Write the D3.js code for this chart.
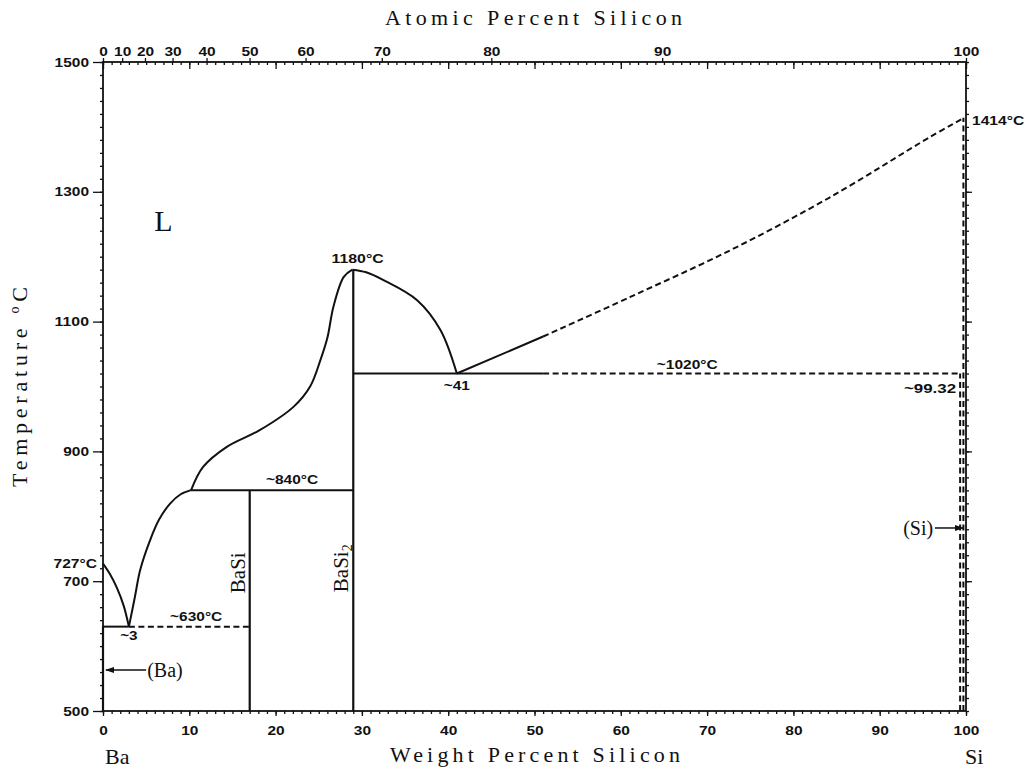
<!DOCTYPE html>
<html>
<head>
<meta charset="utf-8">
<script src="https://cdn.jsdelivr.net/npm/d3@7"></script>
<style>
  html, body { margin: 0; padding: 0; background: #fff; }
  svg { display: block; }
</style>
</head>
<body>
<svg id="chart" width="1026" height="772"></svg>
<script>
// ---------- data (weight percent Si, temperature °C) ----------
const baLiquidus      = [[0,727],[0.8,711],[1.6,690],[2.4,662],[3,630]];
const basiLiquidus    = [[3,630],[3.7,676],[4.3,717],[5.45,763],[6.5,795],[7.8,820],[9,834],[10.1,840]];
const basi2LeftLiq    = [[10.2,840],[11.6,876],[14.35,907],[18.2,933],[22.1,969],[24.0,1000],[25.2,1041],[26.0,1075],[26.7,1123],[27.9,1169],[28.9,1180]];
const basi2RightLiq   = [[28.9,1180],[30.5,1176],[32.5,1164],[36.4,1133],[39.1,1087],[41,1020]];
const siLiquidSolid   = [[41,1020],[51,1077]];
const siLiquidDashed  = [[51,1077],[61.1,1138],[72.7,1210],[84.3,1292],[95.9,1385],[99.8,1414]];

// horizontal invariant lines: [x1, x2, T, dashed]
const isotherms = [[0,3,630,false],[3,17,630,true],[10.1,29,840,false],[29,51,1020,false],[51,99.32,1020,true]];
// vertical lines: [x, T1, T2, dashed]
const verticals = [[17,500,840,false],[29,500,1180,false],[99.32,500,1020,true],[99.7,500,1414,true],[0,500,630,false]];

const wtTicks    = [0,10,20,30,40,50,60,70,80,90,100];
const atTicks    = [0,10,20,30,40,50,60,70,80,90,100];
const tempTicks  = [500,700,900,1100,1300,1500];

// annotations: [text, wt, T, anchor]
const annotations = [
  ["727°C", 0, 727, "end"],
  ["~3", 3, 630, "middle"],
  ["~630°C", 10.8, 630, "middle"],
  ["~840°C", 21.9, 840, "middle"],
  ["1180°C", 29.5, 1180, "middle"],
  ["~41", 41, 1020, "middle"],
  ["~1020°C", 67.7, 1020, "middle"],
  ["~99.32", 99.32, 1020, "end"],
  ["1414°C", 100, 1414, "start"]
];

// ---------- setup ----------
const svg = d3.select("#chart");
svg.append("rect").attr("width",1026).attr("height",772).attr("fill","#fff");

const x = d3.scaleLinear().domain([0,100]).range([103,966]);
const y = d3.scaleLinear().domain([500,1500]).range([711,62]);

const MBa = 137.33, MSi = 28.086;
const atToWt = a => 100 * a * MSi / (a * MSi + (100 - a) * MBa);

const ink = "#111";
const boldFont = "'Liberation Sans', Arial, sans-serif";
const serifFont = "'Liberation Serif', 'DejaVu Serif', serif";

// ---------- axes ----------
svg.append("g").attr("transform",`translate(0,${y(500)})`)
  .call(d3.axisBottom(x).tickValues(d3.range(0,101,1)).tickSize(3).tickFormat(""));
svg.append("g").attr("transform",`translate(0,${y(500)})`)
  .call(d3.axisBottom(x).tickValues(wtTicks).tickSizeInner(5).tickSizeOuter(0).tickPadding(10).tickFormat(d3.format("d")));
svg.append("g").attr("transform",`translate(0,${y(1500)})`)
  .call(d3.axisBottom(x).tickValues(d3.range(0,101,1)).tickSize(3).tickFormat(""));
svg.append("g").attr("transform",`translate(0,${y(1500)})`)
  .call(d3.axisBottom(x).tickValues(wtTicks).tickSize(7).tickFormat(""));
svg.append("g").attr("transform",`translate(0,${y(1500)})`)
  .call(d3.axisTop(d3.scaleIdentity().domain([0,1026]))
    .tickValues(atTicks.map(a => x(atToWt(a))))
    .tickFormat((d,i) => atTicks[i]).tickSize(4).tickPadding(2));
svg.append("g").attr("transform",`translate(${x(0)},0)`)
  .call(d3.axisLeft(y).tickValues(d3.range(500,1501,20)).tickSize(3).tickFormat(""));
svg.append("g").attr("transform",`translate(${x(0)},0)`)
  .call(d3.axisLeft(y).tickValues(tempTicks).tickSizeInner(10).tickSizeOuter(0).tickPadding(4).tickFormat(d3.format("d")));
svg.append("g").attr("transform",`translate(${x(100)},0)`)
  .call(d3.axisRight(y).tickValues(d3.range(500,1501,20)).tickSize(3).tickFormat(""));
svg.append("g").attr("transform",`translate(${x(100)},0)`)
  .call(d3.axisRight(y).tickValues([700,900,1100,1300]).tickSize(6).tickFormat(""));

svg.selectAll(".domain").remove();
svg.selectAll(".tick line").attr("stroke",ink).attr("stroke-width",1.3);
svg.selectAll(".tick text")
  .attr("fill",ink).attr("font-family",boldFont).attr("font-weight","bold").attr("font-size",12.5)
  .each(function(){ const t=d3.select(this); const n=t.text().length; t.attr("textLength", n*8.6).attr("lengthAdjust","spacingAndGlyphs"); });

// frame
svg.append("rect").attr("x",x(0)).attr("y",y(1500)).attr("width",x(100)-x(0)).attr("height",y(500)-y(1500))
  .attr("fill","none").attr("stroke",ink).attr("stroke-width",1.8);

// ---------- curves ----------
const line = d3.line().x(d => x(d[0])).y(d => y(d[1])).curve(d3.curveCatmullRom.alpha(0.5));
const plot = svg.append("g").attr("fill","none").attr("stroke",ink).attr("stroke-width",2);

[baLiquidus, basiLiquidus, basi2LeftLiq, basi2RightLiq, siLiquidSolid].forEach(s =>
  plot.append("path").attr("d", line(s)));
plot.append("path").attr("d", line(siLiquidDashed)).attr("stroke-dasharray","6,3.5");

isotherms.forEach(([a,b,t,dash]) => {
  plot.append("line").attr("x1",x(a)).attr("x2",x(b)).attr("y1",y(t)).attr("y2",y(t))
    .attr("stroke-dasharray", dash ? "6,3.5" : null);
});
verticals.forEach(([xv,t1,t2,dash]) => {
  plot.append("line").attr("x1",x(xv)).attr("x2",x(xv)).attr("y1",y(t1)).attr("y2",y(t2))
    .attr("stroke-width", dash ? 2 : 2.2)
    .attr("stroke-dasharray", dash ? "6,3.5" : null);
});

// ---------- annotations ----------
const ann = svg.append("g").attr("fill",ink).attr("font-family",boldFont).attr("font-weight","bold").attr("font-size",12.5);
const annOffsets = {
  "727°C":[-6,4], "~3":[0,13], "~630°C":[0,-6], "~840°C":[0,-6], "1180°C":[0,-7],
  "~41":[0,16], "~1020°C":[0,-5], "~99.32":[-4,19], "1414°C":[6,7]
};
annotations.forEach(([txt,wt,t,anchor]) => {
  const o = annOffsets[txt];
  ann.append("text").attr("x",x(wt)+o[0]).attr("y",y(t)+o[1]).attr("text-anchor",anchor)
    .attr("textLength", txt.length*8.7).attr("lengthAdjust","spacingAndGlyphs").text(txt);
});

// phase labels
svg.append("text").attr("x",x(7)).attr("y",y(1240)).attr("text-anchor","middle")
  .attr("font-family",serifFont).attr("font-size",30).attr("fill",ink).text("L");

const vlab = (txt, wt, t, sub) => {
  const g = svg.append("text")
    .attr("transform",`translate(${x(wt)-5},${y(t)}) rotate(-90)`)
    .attr("text-anchor","middle").attr("font-family",serifFont).attr("font-size",21).attr("fill",ink);
  g.append("tspan").text(txt);
  if (sub) g.append("tspan").attr("font-size",14).attr("dy",4).text(sub);
};
vlab("BaSi", 17, 713, null);
vlab("BaSi", 29, 720, "2");

// (Ba) and (Si) arrows
const arrowG = svg.append("g").attr("stroke",ink).attr("fill",ink);
arrowG.append("line").attr("x1",x(0)+3).attr("x2",x(5)).attr("y1",y(563)).attr("y2",y(563)).attr("stroke-width",1.5);
arrowG.append("path").attr("d",`M${x(0)+2},${y(563)} l9,-3 l0,6 z`).attr("stroke","none");
svg.append("text").attr("x",x(5)+1).attr("y",y(563)+7).attr("font-family",serifFont).attr("font-size",20).attr("fill",ink).text("(Ba)");

arrowG.append("line").attr("x1",x(96.4)).attr("x2",x(100)-3).attr("y1",y(782)).attr("y2",y(782)).attr("stroke-width",1.5);
arrowG.append("path").attr("d",`M${x(100)-2},${y(782)} l-9,-3 l0,6 z`).attr("stroke","none");
svg.append("text").attr("x",x(96.2)).attr("y",y(782)+7).attr("text-anchor","end").attr("font-family",serifFont).attr("font-size",20).attr("fill",ink).text("(Si)");

// ---------- axis titles ----------
svg.append("text").attr("x",385).attr("y",25).attr("font-family",serifFont).attr("font-size",22).attr("fill",ink)
  .attr("textLength",297).attr("lengthAdjust","spacing").text("Atomic Percent Silicon");
svg.append("text").attr("x",390).attr("y",762).attr("font-family",serifFont).attr("font-size",22).attr("fill",ink)
  .attr("textLength",290).attr("lengthAdjust","spacing").text("Weight Percent Silicon");
svg.append("text").attr("x",105).attr("y",764).attr("font-family",serifFont).attr("font-size",22).attr("fill",ink).text("Ba");
svg.append("text").attr("x",965).attr("y",764).attr("font-family",serifFont).attr("font-size",22).attr("fill",ink).text("Si");

const yt = svg.append("text").attr("transform","translate(27,487) rotate(-90)")
  .attr("font-family",serifFont).attr("font-size",22).attr("fill",ink)
  .attr("textLength",200).attr("lengthAdjust","spacing");
yt.append("tspan").text("Temperature ");
yt.append("tspan").attr("font-size",14).attr("dy",-8).text("o");
yt.append("tspan").attr("dy",8).text("C");
</script>
</body>
</html>
